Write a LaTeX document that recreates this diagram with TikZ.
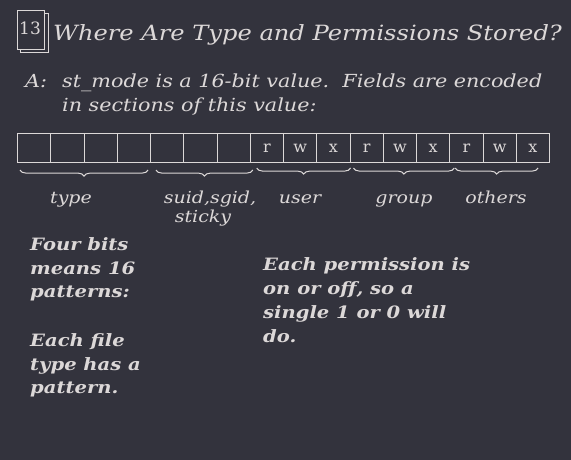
\documentclass[tikz,border=0pt]{standalone}
\usepackage{fontspec}
\setmainfont{DejaVu Serif}[FakeStretch=1.15]
\newfontfamily\plainfont{DejaVu Serif}
\usetikzlibrary{decorations.pathreplacing}
\definecolor{bg}{HTML}{33333D}
\definecolor{chalk}{HTML}{DCD8D8}
\begin{document}
\begin{tikzpicture}[x=1pt,y=-1pt,
  txt/.style={text=chalk,inner sep=0pt,anchor=base west},
  title/.style={txt,font=\itshape\fontsize{21}{24}\selectfont},
  body/.style={txt,font=\itshape\fontsize{18}{20}\selectfont},
  note/.style={txt,font=\bfseries\itshape\fontsize{17}{20}\selectfont},
  lab/.style={text=chalk,inner sep=0pt,anchor=base,font=\itshape\fontsize{16.5}{19}\selectfont},
  cell/.style={draw=chalk,line width=1.1pt,minimum width=33.25pt,minimum height=29pt,inner sep=0pt,anchor=north west,text=chalk},
  bit/.style={text=chalk,inner sep=0pt,font=\plainfont\fontsize{16}{18}\selectfont},
  brace/.style={draw=chalk,line width=1pt,decorate,decoration={brace,mirror,amplitude=6pt}}]
\fill[bg] (0,0) rectangle (571,460);
\useasboundingbox (0,0) rectangle (571,460);
% number box
\draw[chalk,line width=0.8pt] (20,13) rectangle (48,52);
\draw[chalk,line width=0.8pt,fill=bg] (17,10) rectangle (44,49);
\node[txt,font=\plainfont\fontsize{17}{20}\selectfont] (num) at (19,35) {13};
\node[title] (ttl) at (53,41) {Where Are Type and Permissions Stored?};
% answer
\node[body] (a) at (25,88) {A:};
\node[body] (l1) at (62,88) {st\_mode is a 16-bit value.\ \ Fields are encoded};
\node[body] (l2) at (62,111) {in sections of this value:};
% register
\foreach \i in {0,...,15} {
  \node[cell] (c\i) at (17+33.25*\i,133) {};
}
\foreach \i/\l in {7/r,8/w,9/x,10/r,11/w,12/x,13/r,14/w,15/x} {
  \node[bit] (b\i) at (c\i) {\l};
}
% braces
\draw[brace] ([xshift=3pt,yshift=-7pt]c0.south west) -- ([xshift=-3pt,yshift=-7pt]c3.south east);
\draw[brace] ([xshift=6pt,yshift=-7pt]c4.south west) -- ([xshift=2pt,yshift=-7pt]c6.south east);
\draw[brace] ([xshift=7pt,yshift=-5pt]c7.south west) -- ([xshift=0pt,yshift=-5pt]c9.south east);
\draw[brace] ([xshift=4pt,yshift=-5pt]c10.south west) -- ([xshift=4pt,yshift=-5pt]c12.south east);
\draw[brace] ([xshift=6pt,yshift=-5pt]c13.south west) -- ([xshift=-12pt,yshift=-5pt]c15.south east);
% labels
\node[lab] (ltype) at (71,204) {type};
\node[lab] (lsuid) at (210,204) {suid,sgid,};
\node[lab] (lsticky) at (203,222) {sticky};
\node[lab] (luser) at (300,204) {user};
\node[lab] (lgroup) at (404,204) {group};
\node[lab] (lothers) at (496,204) {others};
% notes
\node[note] (n1) at (30,250) {Four bits};
\node[note] (n2) at (30,274) {means 16};
\node[note] (n3) at (30,297) {patterns:};
\node[note] (n4) at (30,346) {Each file};
\node[note] (n5) at (30,370) {type has a};
\node[note] (n6) at (30,393) {pattern.};
\node[note] (p1) at (263,270) {Each permission is};
\node[note] (p2) at (263,294) {on or off, so a};
\node[note] (p3) at (263,318) {single 1 or 0 will};
\node[note] (p4) at (263,342) {do.};
\end{tikzpicture}
\end{document}
